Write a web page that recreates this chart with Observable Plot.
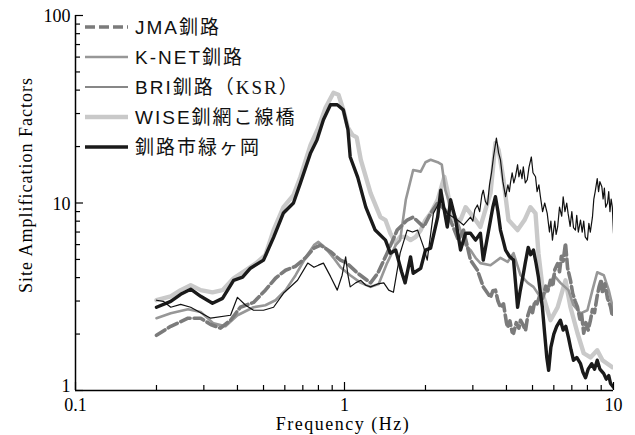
<!DOCTYPE html>
<html><head><meta charset="utf-8">
<script src="https://cdn.jsdelivr.net/npm/d3@7"></script>
<script src="https://cdn.jsdelivr.net/npm/@observablehq/plot@0.6"></script>
<style>body{margin:0;background:#fff}</style>
</head><body><div id="chart"></div>
<script>
// [frequency (Hz), site amplification factor]
const jma = [[0.2,1.97],[0.226,2.2],[0.262,2.43],[0.292,2.43],[0.318,2.25],[0.346,2.15],[0.377,2.37],[0.41,2.78],[0.459,2.95],[0.508,3.43],[0.554,3.97],[0.604,4.38],[0.658,4.6],[0.716,5.1],[0.77,5.75],[0.814,5.96],[0.887,5.5],[0.966,4.96],[1.02,4.78],[1.12,4.22],[1.25,3.75],[1.33,4.22],[1.44,5.4],[1.57,7.17],[1.71,8.11],[1.8,8.4],[1.97,7.45],[2.09,8.8],[2.22,10.0],[2.37,9.18],[2.52,7.63],[2.65,6.34],[2.77,7.17],[2.94,4.96],[3.12,4.38],[3.28,3.57],[3.49,3.14],[3.56,3.4],[3.64,3.43],[3.72,3.0],[3.8,2.78],[3.9,2.9],[4.0,2.3],[4.04,2.17],[4.12,2.35],[4.2,2.05],[4.25,2.02],[4.35,2.3],[4.45,2.15],[4.51,2.37],[4.6,2.25],[4.71,2.09],[4.8,2.5],[4.91,2.78],[5.0,2.6],[5.1,3.0],[5.2,2.9],[5.35,3.3],[5.45,3.1],[5.6,3.6],[5.7,3.4],[5.83,3.87],[5.95,3.6],[6.05,4.4],[6.2,4.75],[6.3,4.3],[6.4,5.2],[6.5,4.9],[6.63,6.1],[6.75,4.5],[6.92,3.87],[7.05,3.3],[7.2,3.0],[7.35,2.78],[7.5,2.4],[7.6,2.6],[7.75,2.02],[7.9,2.3],[8.05,2.1],[8.21,2.37],[8.35,2.7],[8.5,2.6],[8.7,3.2],[8.85,3.6],[9.0,3.9],[9.1,3.3],[9.3,3.7],[9.5,3.1],[9.75,2.8],[9.9,2.5],[10,2.6]];
const knet = [[0.2,2.43],[0.226,2.58],[0.262,2.71],[0.292,2.62],[0.326,2.28],[0.361,2.2],[0.4,2.52],[0.459,2.78],[0.508,2.85],[0.554,3.03],[0.604,3.43],[0.658,4.12],[0.716,5.1],[0.77,5.96],[0.8,6.2],[0.85,5.75],[0.91,5.1],[0.966,4.54],[1.05,4.12],[1.15,3.75],[1.25,3.57],[1.34,3.7],[1.44,4.78],[1.55,5.96],[1.61,6.34],[1.69,10.4],[1.8,15.0],[1.92,14.7],[2.0,16.5],[2.09,17.0],[2.22,16.5],[2.3,16.0],[2.37,11.7],[2.48,9.5],[2.59,8.4],[2.7,7.17],[2.82,5.96],[2.94,5.61],[3.07,5.1],[3.2,4.78],[3.49,4.66],[3.8,5.1],[4.04,4.85],[4.25,5.4],[4.51,4.12],[4.8,3.75],[5.04,3.57],[5.35,3.14],[5.7,3.43],[6.0,4.12],[6.35,3.75],[6.8,3.43],[7.1,2.85],[7.54,2.58],[8.0,2.68],[8.35,3.43],[8.7,4.27],[9.2,4.12],[9.6,3.43],[10,2.68]];
const bri = [[0.2,3.03],[0.212,2.99],[0.226,2.78],[0.246,2.88],[0.268,2.78],[0.318,2.43],[0.377,2.52],[0.4,3.14],[0.429,2.85],[0.459,2.68],[0.5,2.68],[0.545,2.78],[0.593,3.3],[0.669,3.87],[0.73,4.78],[0.77,4.54],[0.8,4.66],[0.835,4.78],[0.887,4.06],[0.94,3.43],[0.98,4.12],[1.01,5.16],[1.03,4.12],[1.05,3.57],[1.1,3.75],[1.15,3.87],[1.2,3.64],[1.25,3.57],[1.33,3.7],[1.4,3.75],[1.46,3.43],[1.52,3.34],[1.61,5.4],[1.71,7.17],[1.79,7.0],[1.87,7.17],[1.97,5.8],[2.03,4.96],[2.14,8.8],[2.28,10.4],[2.41,8.8],[2.63,8.11],[2.77,7.63],[2.94,8.4],[3.0,8.0],[3.05,9.2],[3.12,9.76],[3.18,9.0],[3.24,11.0],[3.28,11.7],[3.34,10.2],[3.4,9.76],[3.46,12.5],[3.52,14.5],[3.58,17.6],[3.67,22.2],[3.74,18.5],[3.8,17.0],[3.88,13.0],[3.97,10.8],[4.05,12.5],[4.1,11.5],[4.14,12.8],[4.2,14.5],[4.26,12.8],[4.32,13.8],[4.4,16.0],[4.45,13.8],[4.51,15.0],[4.57,13.5],[4.62,15.6],[4.7,12.8],[4.78,13.3],[4.85,15.5],[4.95,17.6],[5.02,14.5],[5.13,13.8],[5.2,11.5],[5.28,12.5],[5.35,10.8],[5.45,9.0],[5.55,10.0],[5.67,8.8],[5.78,7.0],[5.85,8.0],[5.93,6.34],[6.05,8.0],[6.12,6.8],[6.2,7.45],[6.3,9.5],[6.42,8.5],[6.5,10.8],[6.6,9.0],[6.7,10.0],[6.78,8.8],[6.9,7.5],[7.0,9.0],[7.1,7.4],[7.22,7.17],[7.3,8.6],[7.4,7.0],[7.54,8.11],[7.65,7.0],[7.75,8.0],[7.85,6.6],[8.0,6.34],[8.1,7.8],[8.2,7.0],[8.35,8.4],[8.45,10.5],[8.55,11.5],[8.7,13.5],[8.8,11.5],[8.9,13.0],[9.05,12.2],[9.15,10.5],[9.25,12.0],[9.35,9.5],[9.5,10.0],[9.6,11.5],[9.7,9.0],[9.8,10.5],[9.9,9.5],[10,6.9]];
const wise = [[0.2,3.03],[0.226,3.18],[0.246,3.43],[0.268,3.64],[0.292,3.43],[0.323,3.34],[0.352,3.43],[0.387,3.97],[0.429,4.38],[0.467,4.75],[0.508,5.27],[0.545,7.17],[0.593,9.5],[0.646,11.0],[0.686,13.8],[0.748,20.4],[0.8,25.2],[0.85,32.2],[0.91,38.7],[0.95,37.8],[0.99,31.4],[1.03,25.2],[1.07,23.1],[1.11,22.4],[1.15,17.0],[1.25,11.3],[1.36,8.4],[1.42,8.11],[1.48,6.9],[1.55,6.1],[1.61,6.6],[1.69,6.6],[1.76,6.34],[1.84,6.6],[1.92,7.17],[2.0,8.11],[2.09,8.8],[2.22,10.4],[2.35,13.8],[2.41,11.7],[2.52,8.11],[2.7,8.11],[2.82,9.5],[2.94,8.8],[3.07,8.11],[3.2,7.45],[3.34,9.18],[3.49,11.3],[3.64,20.9],[3.74,19.2],[3.9,13.3],[4.07,8.11],[4.4,7.17],[4.67,8.11],[4.91,9.5],[5.13,8.8],[5.26,5.4],[5.5,3.14],[5.83,2.37],[6.2,2.78],[6.63,3.87],[6.92,2.78],[7.35,2.02],[7.75,1.58],[8.21,1.5],[8.7,1.64],[9.1,1.45],[9.9,1.33]];
const midori = [[0.2,2.78],[0.226,2.99],[0.246,3.26],[0.268,3.47],[0.292,3.18],[0.323,2.92],[0.352,3.1],[0.387,3.87],[0.418,4.02],[0.447,4.49],[0.5,4.96],[0.545,6.56],[0.593,8.85],[0.646,10.0],[0.686,12.8],[0.748,18.5],[0.79,21.7],[0.835,27.8],[0.887,33.4],[0.94,33.4],[0.99,31.4],[1.03,24.6],[1.05,17.6],[1.12,13.7],[1.2,9.5],[1.3,7.17],[1.42,6.34],[1.48,5.4],[1.55,5.61],[1.63,4.3],[1.68,3.75],[1.76,5.16],[1.8,4.22],[1.92,4.48],[2.0,5.61],[2.09,5.75],[2.22,8.4],[2.28,11.7],[2.33,9.76],[2.41,7.45],[2.48,10.4],[2.59,8.11],[2.7,5.61],[2.82,6.9],[2.94,6.9],[3.07,6.34],[3.2,6.9],[3.28,4.96],[3.49,8.11],[3.56,9.5],[3.64,10.8],[3.72,9.0],[3.8,7.17],[3.9,6.2],[3.97,5.61],[4.1,5.2],[4.25,4.96],[4.32,3.8],[4.4,2.78],[4.5,3.4],[4.6,4.02],[4.7,4.8],[4.82,5.8],[4.92,5.3],[5.04,5.61],[5.15,4.8],[5.26,4.02],[5.35,3.3],[5.44,2.78],[5.55,2.0],[5.65,1.5],[5.74,1.28],[5.85,1.7],[6.0,2.0],[6.15,2.2],[6.35,2.37],[6.5,2.1],[6.65,2.2],[6.8,1.92],[6.95,1.65],[7.1,1.45],[7.3,1.5],[7.54,1.39],[7.7,1.25],[7.87,1.17],[8.05,1.3],[8.3,1.39],[8.5,1.3],[8.7,1.45],[8.9,1.3],[9.2,1.23],[9.4,1.15],[9.6,1.2],[9.75,1.09],[10,1.04]];

const seriesNames = ["JMA釧路", "K-NET釧路", "BRI釧路", "WISE釧網こ線橋", "釧路市緑ヶ岡"];
const xMajorTicks = [0.1, 1, 10];
const xTickLabels = ["0.1", "1", "10"];
const xMinorTicks = [0.2,0.3,0.4,0.5,0.6,0.7,0.8,0.9,2,3,4,5,6,7,8,9];
const yMajorTicks = [1, 10, 100];
const yTickLabels = ["1", "10", "100"];
const yMinorTicks = [2,3,4,5,6,7,8,9,20,30,40,50,60,70,80,90];

const styles = [
  {data: jma,    stroke: "#7b7b7b", width: 3.6, dash: "10,4"},
  {data: knet,   stroke: "#979797", width: 2.6, dash: null},
  {data: bri,    stroke: "#111111", width: 1.2, dash: null},
  {data: wise,   stroke: "#c9c9c9", width: 4.4, dash: null},
  {data: midori, stroke: "#1a1a1a", width: 3.4, dash: null}
];
const drawOrder = [3, 1, 0, 4, 2];

const serif = "'Liberation Serif', 'Times New Roman', serif";
const yLabel = d => yTickLabels[yMajorTicks.indexOf(d)];
const plot = Plot.plot({
  width: 635, height: 435,
  marginLeft: 75, marginRight: 22, marginTop: 15, marginBottom: 45,
  x: {type: "log", domain: [0.1, 10]},
  y: {type: "log", domain: [1, 100]},
  style: {fontFamily: serif, fontSize: "18px", background: "#fff", color: "#000"},
  marks: [
    ...drawOrder.map(i => Plot.line(styles[i].data, {
      x: d => d[0], y: d => d[1], stroke: styles[i].stroke, strokeWidth: styles[i].width,
      strokeDasharray: styles[i].dash, strokeLinejoin: "round", clip: true
    })),
    Plot.ruleX([0.1], {stroke: "#000", strokeWidth: 1.5}),
    Plot.ruleY([1], {stroke: "#000", strokeWidth: 1.5}),
    Plot.axisX(xMinorTicks, {tickSize: 5, dy: -5, tickFormat: () => "", label: null, strokeWidth: 1.2}),
    Plot.axisX(xMajorTicks, {tickSize: 8, dy: -8, tickFormat: () => "", label: null, strokeWidth: 1.2}),
    Plot.axisX(xMajorTicks, {tickSize: 0, tickPadding: 8, tickFormat: d => xTickLabels[xMajorTicks.indexOf(d)], label: null, fill: "#000"}),
    Plot.axisY(yMinorTicks, {tickSize: 5, dx: 5, tickFormat: () => "", label: null, strokeWidth: 1.2}),
    Plot.axisY(yMajorTicks, {tickSize: 8, dx: 8, tickFormat: () => "", label: null, strokeWidth: 1.2}),
    Plot.axisY(yMajorTicks.slice(1), {tickSize: 0, tickPadding: 5, dy: 1, tickFormat: yLabel, label: null, fill: "#000"}),
    Plot.axisY(yMajorTicks.slice(0, 1), {tickSize: 0, tickPadding: 5, dy: -4, tickFormat: yLabel, label: null, fill: "#000"})
  ]
});

const svg = d3.select(plot);
svg.append("text")
  .attr("transform", "translate(32,185) rotate(-90)")
  .attr("text-anchor", "middle")
  .style("font-family", serif).style("font-size", "18px").style("letter-spacing", "1px")
  .attr("fill", "#000")
  .text("Site Amplification Factors");
svg.append("text")
  .attr("x", 343).attr("y", 430)
  .attr("text-anchor", "middle")
  .style("font-family", serif).style("font-size", "18px").style("letter-spacing", "1.5px")
  .attr("fill", "#000")
  .text("Frequency (Hz)");

const leg = svg.append("g").attr("text-anchor", "start");
seriesNames.forEach((name, i) => {
  const s = styles[i];
  const y = 27 + 30 * i;
  leg.append("line").attr("x1", 85).attr("x2", 128).attr("y1", y).attr("y2", y)
    .attr("stroke", s.stroke).attr("stroke-width", s.width)
    .attr("stroke-dasharray", s.dash);
  const t = leg.append("text").attr("x", 135).attr("y", y).attr("dy", "0.36em")
    .attr("text-anchor", "start")
    .style("font-family", "'Liberation Sans', 'Noto Sans CJK JP', sans-serif")
    .style("font-size", "19px").style("letter-spacing", "2px").attr("fill", "#111");
  t.append("tspan").text(name);
  if (i === 2) {
    t.append("tspan").style("font-family", serif + ", 'Noto Sans CJK JP'").text("（KSR）");
  }
});

document.getElementById("chart").appendChild(plot);
</script>
</body></html>
